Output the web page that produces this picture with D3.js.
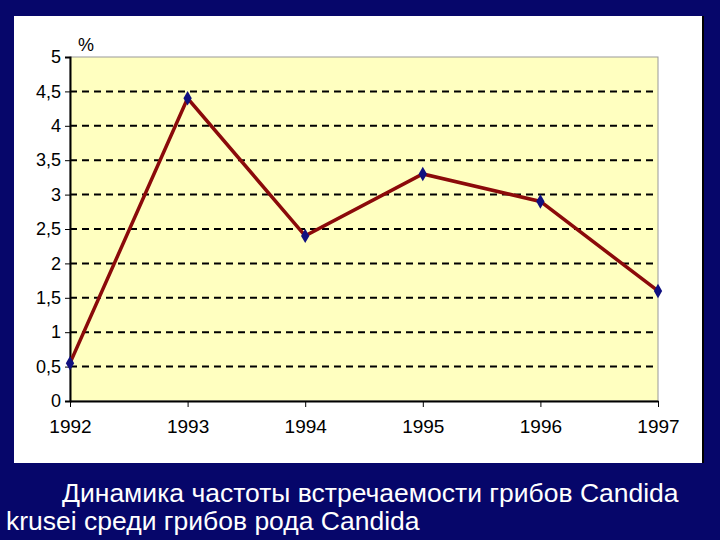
<!DOCTYPE html>
<html><head><meta charset="utf-8">
<script src="https://cdn.jsdelivr.net/npm/d3@7"></script>
<style>body{margin:0;background:#0a0a6e;}</style>
</head><body>
<svg id="c" width="720" height="540"></svg>
<script>
var years = ["1992","1993","1994","1995","1996","1997"];
var values = [0.55, 4.4, 2.4, 3.3, 2.9, 1.6];
var yTicks = [0,0.5,1,1.5,2,2.5,3,3.5,4,4.5,5];

var svg = d3.select('#c');
svg.append('rect').attr('width',720).attr('height',540).attr('fill','#06066a');
svg.append('rect').attr('x',14).attr('y',16).attr('width',689).attr('height',447).attr('fill','#fff');
svg.append('line').attr('x1',703).attr('x2',703).attr('y1',16).attr('y2',463).attr('stroke','#000').attr('stroke-width',2);

var x = d3.scalePoint().domain(years).range([70,658]);
var y = d3.scaleLinear().domain([0,5]).range([401,57]);

svg.append('rect').attr('x',70).attr('y',57).attr('width',588).attr('height',344)
  .attr('fill','#ffffc0').attr('stroke','#999').attr('stroke-width',1);

svg.append('g').selectAll('line').data(yTicks.filter(function(d){return d>0 && d<5;})).join('line')
  .attr('x1',70).attr('x2',658).attr('y1',function(d){return y(d);}).attr('y2',function(d){return y(d);})
  .attr('stroke','#000').attr('stroke-width',2).attr('stroke-dasharray','7,5');

var tf = 'Liberation Sans Narrow, Arial Narrow, Arial';
var fmt = function(d){return String(d).replace('.',',');};
svg.append('g').attr('transform','translate(70,0)')
  .call(d3.axisLeft(y).tickValues(yTicks).tickFormat(fmt).tickSize(5))
  .call(function(g){g.select('.domain').attr('stroke-width',2);
    g.selectAll('text').attr('font-family',tf).attr('font-size',18).attr('fill','#000').attr('dx',-1);});
svg.append('g').attr('transform','translate(0,401)')
  .call(d3.axisBottom(x).tickSize(6).tickSizeOuter(0))
  .call(function(g){g.select('.domain').attr('stroke-width',2);
    g.selectAll('text').attr('font-family',tf).attr('font-size',19).attr('fill','#000').attr('dy','1.2em');});

svg.append('text').attr('x',78).attr('y',51).text('%').attr('font-family',tf).attr('font-size',18);

var line = d3.line().x(function(d,i){return x(years[i]);}).y(function(d){return y(d);});
svg.append('path').datum(values).attr('d',line).attr('fill','none').attr('stroke','#8b0a0a').attr('stroke-width',3.5);
svg.append('g').selectAll('path').data(values).join('path')
  .attr('d',d3.symbol(d3.symbolDiamond,60))
  .attr('transform',function(d,i){return 'translate('+x(years[i])+','+y(d)+')';})
  .attr('fill','#101080');

var t = svg.append('text').attr('font-family','Arial, Liberation Sans').attr('font-size',26.5).attr('fill','#fff');
t.append('tspan').attr('x',62).attr('y',502).text('Динамика частоты встречаемости грибов Candida');
t.append('tspan').attr('x',6).attr('y',530).text('krusei среди грибов рода Candida');
</script>
</body></html>
